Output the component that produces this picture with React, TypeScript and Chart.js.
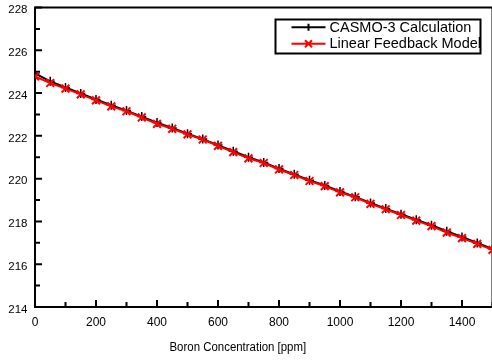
import { useEffect, useRef } from 'react';
import { Chart, registerables } from 'chart.js';

Chart.register(...registerables);

// Boron concentration [ppm], sampled every 50 ppm
const boron = [
  0, 50, 100, 150, 200, 250, 300, 350, 400, 450, 500, 550, 600, 650, 700, 750,
  800, 850, 900, 950, 1000, 1050, 1100, 1150, 1200, 1250, 1300, 1350, 1400, 1450, 1500,
];

// CASMO-3 lattice calculation
const casmo = [
  224.92, 224.55, 224.26, 223.98, 223.7, 223.43, 223.18, 222.9, 222.62, 222.37, 222.1,
  221.85, 221.57, 221.28, 221.0, 220.76, 220.47, 220.2, 219.93, 219.68, 219.4, 219.15,
  218.86, 218.6, 218.34, 218.08, 217.82, 217.54, 217.27, 216.99, 216.72,
];

// Linear feedback model
const linearModel = [
  224.78, 224.47, 224.21, 223.94, 223.66, 223.38, 223.15, 222.86, 222.56, 222.33, 222.07,
  221.83, 221.53, 221.24, 220.95, 220.73, 220.43, 220.17, 219.89, 219.65, 219.36, 219.13,
  218.82, 218.57, 218.3, 218.04, 217.78, 217.48, 217.22, 216.95, 216.67,
];

const xTickLabels = [0, 200, 400, 600, 800, 1000, 1200, 1400];
const yTickLabels = [214, 216, 218, 220, 222, 224, 226, 228];
const xTitle = 'Boron Concentration [ppm]';

const FONT = "'Liberation Sans', Arial, sans-serif";

// Frame around the plot plus inward-pointing tick marks
const framePlugin = {
  id: 'frameAndTicks',
  beforeDatasetsDraw(chart: any) {
    const { ctx, chartArea } = chart;
    const xs = chart.scales.x;
    const ys = chart.scales.y;
    ctx.save();
    ctx.strokeStyle = '#000';
    ctx.lineWidth = 2;
    ctx.strokeRect(chartArea.left, chartArea.top, chartArea.right - chartArea.left, chartArea.bottom - chartArea.top);
    ctx.beginPath();
    for (const t of xs.ticks) {
      const px = xs.getPixelForValue(t.value);
      const len = xTickLabels.includes(t.value) ? 7 : 5;
      ctx.moveTo(px, chartArea.bottom);
      ctx.lineTo(px, chartArea.bottom - len);
    }
    for (const t of ys.ticks) {
      const py = ys.getPixelForValue(t.value);
      const len = yTickLabels.includes(t.value) ? 7 : 5;
      ctx.moveTo(chartArea.left, py);
      ctx.lineTo(chartArea.left + len, py);
    }
    ctx.stroke();
    ctx.restore();
  },
};

// Condensed axis title under the x axis, centred a little left of mid-scale
const axisTitlePlugin = {
  id: 'axisTitle',
  afterDraw(chart: any) {
    const { ctx } = chart;
    const xs = chart.scales.x;
    const cx = xs.getPixelForValue(665);
    ctx.save();
    ctx.translate(cx, xs.bottom - 12.3);
    ctx.scale(0.915, 1);
    ctx.font = `12.5px ${FONT}`;
    ctx.fillStyle = '#000';
    ctx.textAlign = 'center';
    ctx.textBaseline = 'alphabetic';
    ctx.fillText(xTitle, 0, 0);
    ctx.restore();
  },
};

// Boxed legend in the upper right of the plot
const legendPlugin = {
  id: 'boxLegend',
  afterDraw(chart: any) {
    const { ctx, chartArea } = chart;
    const boxW = 205;
    const boxH = 34;
    const bx = chartArea.right - 12 - boxW;
    const by = chartArea.top + 12;
    ctx.save();
    ctx.fillStyle = '#fff';
    ctx.fillRect(bx, by, boxW, boxH);
    ctx.strokeStyle = '#000';
    ctx.lineWidth = 2;
    ctx.strokeRect(bx, by, boxW, boxH);

    const rows = [
      { label: chart.data.datasets[1].label, color: '#000', marker: 'plus', y: by + 7.7 },
      { label: chart.data.datasets[0].label, color: '#ff0000', marker: 'x', y: by + 24.3 },
    ];
    const x0 = bx + 16;
    const x1 = bx + 50;
    const mx = (x0 + x1) / 2;
    ctx.font = `14.5px ${FONT}`;
    ctx.textBaseline = 'middle';
    ctx.textAlign = 'left';
    for (const r of rows) {
      ctx.strokeStyle = r.color;
      ctx.lineWidth = 2;
      ctx.beginPath();
      ctx.moveTo(x0, r.y);
      ctx.lineTo(x1, r.y);
      if (r.marker === 'plus') {
        ctx.moveTo(mx, r.y - 3.5);
        ctx.lineTo(mx, r.y + 3.5);
      } else {
        ctx.moveTo(mx - 3.5, r.y - 3.5);
        ctx.lineTo(mx + 3.5, r.y + 3.5);
        ctx.moveTo(mx + 3.5, r.y - 3.5);
        ctx.lineTo(mx - 3.5, r.y + 3.5);
      }
      ctx.stroke();
      ctx.fillStyle = '#000';
      ctx.fillText(r.label, x1 + 4, r.y + 0.5);
    }
    ctx.restore();
  },
};

export default function App() {
  const canvasRef = useRef<HTMLCanvasElement | null>(null);

  useEffect(() => {
    const canvas = canvasRef.current;
    if (!canvas) return;
    const chart = new Chart(canvas, {
      type: 'line',
      data: {
        datasets: [
          {
            label: 'Linear Feedback Model',
            data: boron.map((b, i) => ({ x: b, y: linearModel[i] })),
            borderColor: '#ff0000',
            backgroundColor: '#ff0000',
            borderWidth: 2,
            pointStyle: 'crossRot',
            pointRadius: 5.5,
            pointBorderWidth: 2,
            pointBorderColor: '#ff0000',
            order: 0,
          },
          {
            label: 'CASMO-3 Calculation',
            data: boron.map((b, i) => ({ x: b, y: casmo[i] })),
            borderColor: '#000',
            backgroundColor: '#000',
            borderWidth: 2,
            pointStyle: 'cross',
            pointRadius: 4.5,
            pointBorderWidth: 1.5,
            pointBorderColor: '#000',
            order: 1,
          },
        ],
      },
      options: {
        animation: false,
        responsive: false,
        devicePixelRatio: 1,
        layout: { padding: { top: 7, right: 2, left: 0, bottom: 0 } },
        plugins: {
          legend: { display: false },
          tooltip: { enabled: false },
        },
        scales: {
          x: {
            type: 'linear',
            min: 0,
            max: 1500,
            grid: { display: false, drawTicks: false },
            border: { display: false },
            ticks: {
              stepSize: 100,
              autoSkip: false,
              maxRotation: 0,
              padding: 8,
              color: '#000',
              font: { family: FONT, size: 12 },
              callback: (v: any) => (xTickLabels.includes(Number(v)) ? String(v) : ''),
            },
            title: { display: false },
            afterFit: (s: any) => {
              s.height = 56;
              s.paddingLeft = 0;
              s.paddingRight = 0;
            },
          },
          y: {
            type: 'linear',
            min: 214,
            max: 228,
            grid: { display: false, drawTicks: false },
            border: { display: false },
            ticks: {
              stepSize: 1,
              autoSkip: false,
              padding: 7.5,
              labelOffset: 2.5,
              color: '#000',
              font: { family: FONT, size: 11.5 },
              callback: (v: any) => (yTickLabels.includes(Number(v)) ? String(v) : ''),
            },
            afterFit: (s: any) => {
              s.width = 35;
              s.paddingTop = 0;
              s.paddingBottom = 0;
            },
          },
        },
      },
      plugins: [framePlugin, axisTitlePlugin, legendPlugin],
    });
    return () => chart.destroy();
  }, []);

  return (
    <div
      style={{
        position: 'fixed',
        left: 0,
        top: 0,
        width: 492,
        height: 363,
        overflow: 'hidden',
        background: '#fff',
      }}
    >
      <canvas ref={canvasRef} width={500} height={363} style={{ width: 500, height: 363, display: 'block' }} />
    </div>
  );
}
